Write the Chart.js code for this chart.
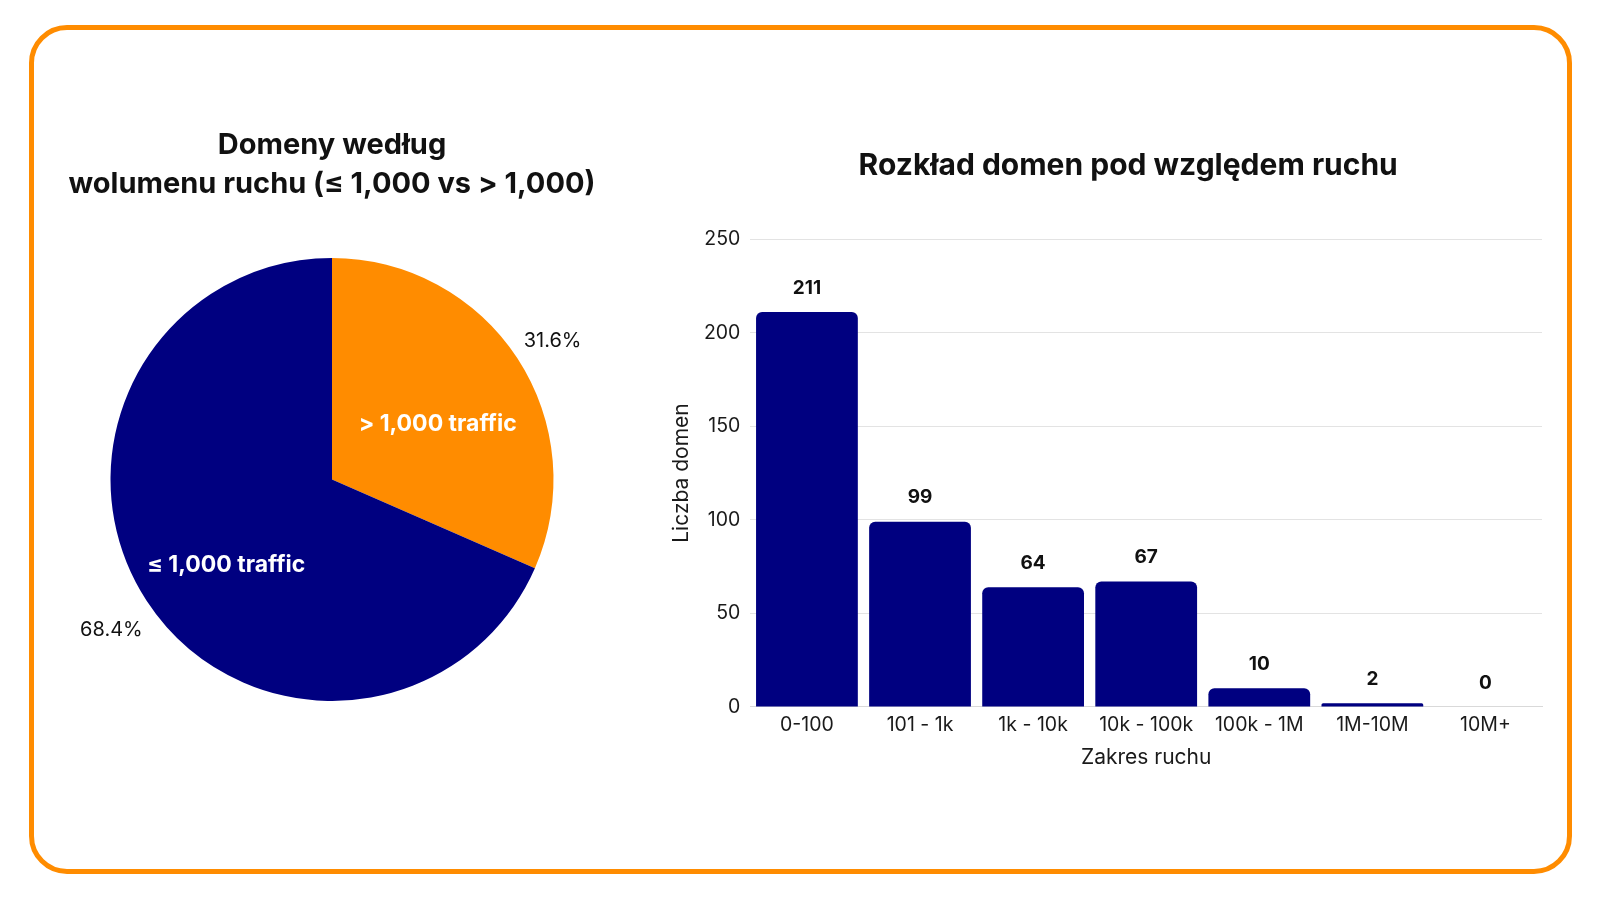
<!DOCTYPE html>
<html>
<head>
<meta charset="utf-8">
<script src="https://cdn.jsdelivr.net/npm/chart.js@4.4.1/dist/chart.umd.min.js"></script>
<style>
  html, body { margin: 0; padding: 0; background: #ffffff; }
  body { width: 1600px; height: 900px; position: relative; overflow: hidden; font-family: Inter, "Open Sans", sans-serif; }
  #frame { position: absolute; left: 29px; top: 25px; width: 1543px; height: 849px; box-sizing: border-box;
           border: 5px solid #FF8C00; border-radius: 38px; }
  #pie { position: absolute; left: 44px; top: 111px; }
  #bar { position: absolute; left: 660px; top: 122px; }
</style>
</head>
<body>
<div id="frame"></div>
<canvas id="pie" width="576" height="590"></canvas>
<canvas id="bar" width="931" height="662"></canvas>
<script>
// ---- data ----
const pieTitle = ['Domeny według', 'wolumenu ruchu (≤ 1,000 vs > 1,000)'];
const pieLabels = ['> 1,000 traffic', '≤ 1,000 traffic'];
const pieValues = [143, 310];
const pieColors = ['#FF8C00', '#000080'];

const barTitle = 'Rozkład domen pod względem ruchu';
const barCategories = ['0-100', '101 - 1k', '1k - 10k', '10k - 100k', '100k - 1M', '1M-10M', '10M+'];
const barValues = [211, 99, 64, 67, 10, 2, 0];
const yTitle = 'Liczba domen';
const xTitle = 'Zakres ruchu';
const yMax = 250;
const yStep = 50;

const FONT = 'Inter, "Open Sans", sans-serif';
Chart.defaults.font.family = FONT;
Chart.defaults.color = '#111111';

// ---- pie labels plugin ----
const pieLabelPlugin = {
  id: 'pieLabelPlugin',
  afterDatasetsDraw(chart) {
    const ctx = chart.ctx;
    const meta = chart.getDatasetMeta(0);
    const total = pieValues.reduce((a, b) => a + b, 0);
    meta.data.forEach((arc, i) => {
      const p = arc.getProps(['x', 'y', 'startAngle', 'endAngle', 'outerRadius'], true);
      const mid = (p.startAngle + p.endAngle) / 2;
      const R = p.outerRadius;
      ctx.save();
      ctx.textAlign = 'center';
      ctx.textBaseline = 'middle';
      ctx.fillStyle = '#ffffff';
      ctx.font = 'bold 23px ' + FONT;
      ctx.fillText(pieLabels[i], p.x + Math.cos(mid) * R * 0.57, p.y + Math.sin(mid) * R * 0.58 + 15);
      ctx.fillStyle = '#111111';
      ctx.font = '20px ' + FONT;
      const pct = (pieValues[i] / total * 100).toFixed(1) + '%';
      ctx.fillText(pct, p.x + Math.cos(mid) * R * 1.19, p.y + Math.sin(mid) * R * 1.19 + 6);
      ctx.restore();
    });
  }
};

new Chart(document.getElementById('pie'), {
  type: 'pie',
  data: {
    labels: pieLabels,
    datasets: [{ data: pieValues, backgroundColor: pieColors, borderWidth: 0, hoverOffset: 0, offset: 0 }]
  },
  options: {
    responsive: false,
    animation: false,
    devicePixelRatio: 1,
    layout: { padding: 0 },
    plugins: {
      legend: { display: false },
      tooltip: { enabled: false },
      title: {
        display: true,
        text: pieTitle,
        color: '#111111',
        font: { size: 29, weight: 'bold', lineHeight: '39px' },
        padding: { top: 14.5, bottom: 54.5 }
      }
    }
  },
  plugins: [pieLabelPlugin]
});

// ---- bar value labels ----
const barValuePlugin = {
  id: 'barValuePlugin',
  afterDatasetsDraw(chart) {
    const ctx = chart.ctx;
    const meta = chart.getDatasetMeta(0);
    ctx.save();
    ctx.textAlign = 'center';
    ctx.textBaseline = 'middle';
    ctx.fillStyle = '#111111';
    ctx.font = 'bold 19px ' + FONT;
    meta.data.forEach((bar, i) => {
      ctx.fillText(String(barValues[i]), bar.x, bar.y - 24);
    });
    ctx.restore();
  }
};

new Chart(document.getElementById('bar'), {
  type: 'bar',
  data: {
    labels: barCategories,
    datasets: [{
      data: barValues,
      backgroundColor: '#000080',
      borderWidth: 0,
      borderRadius: 6,
      borderSkipped: 'start',
      barPercentage: 0.9,
      categoryPercentage: 1.0
    }]
  },
  options: {
    responsive: false,
    animation: false,
    devicePixelRatio: 1,
    layout: { padding: { left: 5.4, right: 0, top: 0, bottom: 10 } },
    plugins: {
      legend: { display: false },
      tooltip: { enabled: false },
      title: {
        display: true,
        text: barTitle,
        color: '#111111',
        font: { size: 30, weight: 'bold', lineHeight: 1.2 },
        padding: { top: 25.5, bottom: 55.6 }
      }
    },
    scales: {
      x: {
        grid: { display: false, drawTicks: false },
        border: { display: true, color: '#d9d9d9', width: 1 },
        ticks: { color: '#1a1a1a', font: { size: 19.5 }, padding: 6.5, maxRotation: 0, autoSkip: false },
        title: { display: true, text: xTitle, color: '#1a1a1a', font: { size: 21, lineHeight: 1.2 }, padding: { top: 4, bottom: 4 } },
        afterFit(scale) { scale.height = 67.1; }
      },
      y: {
        min: 0,
        max: yMax,
        ticks: { stepSize: yStep, color: '#1a1a1a', font: { size: 19.5 }, padding: 10 },
        grid: { color: '#e3e3e3', lineWidth: 1, drawTicks: false },
        border: { display: false },
        title: { display: true, text: yTitle, color: '#1a1a1a', font: { size: 21, lineHeight: 1.2 }, padding: { top: 4, bottom: 4 } },
        afterFit(scale) { scale.width = 85; }
      },
      yR: {
        position: 'right',
        display: true,
        grid: { display: false, drawTicks: false },
        border: { display: false },
        ticks: { display: false },
        afterFit(scale) { scale.width = 49; }
      }
    }
  },
  plugins: [barValuePlugin]
});
</script>
</body>
</html>
